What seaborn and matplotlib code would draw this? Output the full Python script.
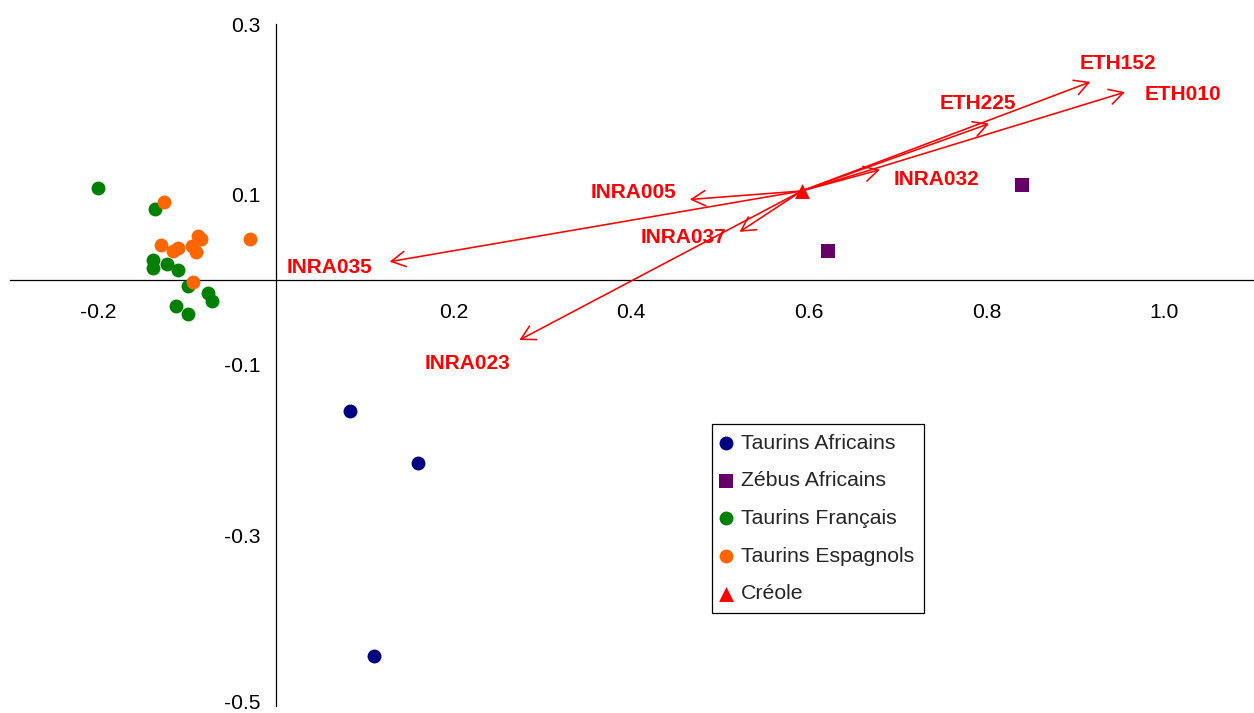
import numpy as np
import pandas as pd
import matplotlib
matplotlib.use("Agg")
import matplotlib.pyplot as plt
import seaborn as sns
from matplotlib.ticker import FixedLocator, FuncFormatter
from matplotlib.transforms import ScaledTranslation

# Populations projected on the first two axes
taurins_africains_x = [0.083, 0.160, 0.110]
taurins_africains_y = [-0.154, -0.215, -0.442]

zebus_africains_x = [0.840, 0.622]
zebus_africains_y = [0.111, 0.034]

taurins_francais_x = [-0.201, -0.136, -0.138, -0.138, -0.123, -0.110, -0.099, -0.077, -0.072, -0.113, -0.099]
taurins_francais_y = [0.107, 0.083, 0.023, 0.013, 0.018, 0.011, -0.008, -0.016, -0.025, -0.031, -0.041]

taurins_espagnols_x = [-0.126, -0.129, -0.116, -0.110, -0.088, -0.084, -0.095, -0.090, -0.029, -0.093]
taurins_espagnols_y = [0.091, 0.041, 0.034, 0.037, 0.051, 0.048, 0.039, 0.032, 0.048, -0.003]

creole_x = [0.592]
creole_y = [0.104]

# Loci vectors, drawn from the Créole point
loci = ["ETH152", "ETH010", "ETH225", "INRA032", "INRA005", "INRA035", "INRA037", "INRA023"]
loci_x = [0.917, 0.956, 0.803, 0.680, 0.466, 0.128, 0.522, 0.274]
loci_y = [0.232, 0.220, 0.183, 0.129, 0.094, 0.021, 0.056, -0.071]

x_tick_labels = ["-0.2", "0.2", "0.4", "0.6", "0.8", "1.0"]
y_tick_labels = ["0.3", "0.1", "-0.1", "-0.3", "-0.5"]

groups = {
    "Taurins Africains": (taurins_africains_x, taurins_africains_y),
    "Zébus Africains": (zebus_africains_x, zebus_africains_y),
    "Taurins Français": (taurins_francais_x, taurins_francais_y),
    "Taurins Espagnols": (taurins_espagnols_x, taurins_espagnols_y),
    "Créole": (creole_x, creole_y),
}

colors = {
    "Taurins Africains": "#000080",
    "Zébus Africains": "#660066",
    "Taurins Français": "#008000",
    "Taurins Espagnols": "#FF6600",
    "Créole": "#FF0000",
}
markers = {
    "Taurins Africains": "o",
    "Zébus Africains": "s",
    "Taurins Français": "o",
    "Taurins Espagnols": "o",
    "Créole": "^",
}
sizes = {
    "Taurins Africains": 100,
    "Zébus Africains": 95,
    "Taurins Français": 100,
    "Taurins Espagnols": 100,
    "Créole": 115,
}

# label placement relative to each arrow tip (pixels)
label_offsets = {
    "ETH152": (28, 18),
    "ETH010": (58, -2),
    "ETH225": (-11, 20),
    "INRA032": (57, -10),
    "INRA005": (-56, 7),
    "INRA035": (-60, -6),
    "INRA037": (-56, -6),
    "INRA023": (-52, -23),
}

frames = []
for name, (xs, ys) in groups.items():
    frames.append(pd.DataFrame({"x": xs, "y": ys, "group": name}))
df = pd.concat(frames, ignore_index=True)

sns.set_style("white")
plt.rcParams["font.family"] = ["Liberation Sans", "DejaVu Sans"]

fig = plt.figure(figsize=(12.54, 7.13), dpi=100)
ax = fig.add_axes([9.6 / 1254, 1 - 705.5 / 713, (1252.8 - 9.6) / 1254, (705.5 - 24.0) / 713])

for name in groups:
    sub = df[df["group"] == name]
    sns.scatterplot(data=sub, x="x", y="y", ax=ax, color=colors[name],
                    marker=markers[name], s=sizes[name], linewidth=0,
                    label=name, zorder=3)

# arrows from the Créole point to each locus
ox, oy = creole_x[0], creole_y[0]
for name, lx, ly in zip(loci, loci_x, loci_y):
    ax.annotate("", xy=(lx, ly), xytext=(ox, oy),
                arrowprops=dict(arrowstyle="->,head_length=1.0,head_width=0.55",
                                color="#FF0000", lw=1.15, shrinkA=0, shrinkB=0,
                                mutation_scale=10),
                zorder=4)
    dx, dy = label_offsets[name]
    ax.annotate(name, xy=(lx, ly), xytext=(dx, dy), textcoords="offset pixels",
                ha="center", va="center", color="#FF0000", fontsize=15,
                fontweight="bold", zorder=5)

ax.set_xlim(-0.3, 1.1)
ax.set_ylim(-0.5, 0.3)

for side in ("top", "right"):
    ax.spines[side].set_visible(False)
ax.spines["left"].set_position(("data", 0))
ax.spines["bottom"].set_position(("data", 0))
for side in ("left", "bottom"):
    ax.spines[side].set_color("black")
    ax.spines[side].set_linewidth(0.9)

xt = np.round(np.arange(-0.3, 1.1001, 0.1), 2)
yt = np.round(np.arange(-0.5, 0.3001, 0.1), 2)
ax.xaxis.set_major_locator(FixedLocator(xt))
ax.yaxis.set_major_locator(FixedLocator(yt))


def make_formatter(allowed):
    def fmt(v, pos):
        s = f"{v:.1f}"
        if s == "-0.0":
            s = "0.0"
        return s if s in allowed else ""
    return FuncFormatter(fmt)


ax.xaxis.set_major_formatter(make_formatter(x_tick_labels))
ax.yaxis.set_major_formatter(make_formatter(y_tick_labels))
ax.tick_params(axis="both", direction="out", length=5, width=0.9,
               colors="black", labelsize=15.2)
ax.tick_params(axis="x", pad=12)
ax.tick_params(axis="y", pad=6.5)
ax.set_xlabel("")
ax.set_ylabel("")
ax.grid(False)

# keep the lowest y label inside the canvas
bottom_tick = ax.yaxis.get_major_ticks()[0]
bottom_tick.label1.set_transform(bottom_tick.label1.get_transform()
                                 + ScaledTranslation(0, 4 / 100, fig.dpi_scale_trans))

leg = ax.legend(loc="upper left", bbox_to_anchor=(712 / 1254, 1 - 424 / 713),
                bbox_transform=fig.transFigure, borderaxespad=0, frameon=True,
                fancybox=False, framealpha=1, edgecolor="black", fontsize=15.3,
                handlelength=0.42, handletextpad=0.5, borderpad=0.45,
                labelspacing=0.88, markerscale=1.0)
leg.get_frame().set_linewidth(0.9)

fig.savefig("out.png", dpi=100)
